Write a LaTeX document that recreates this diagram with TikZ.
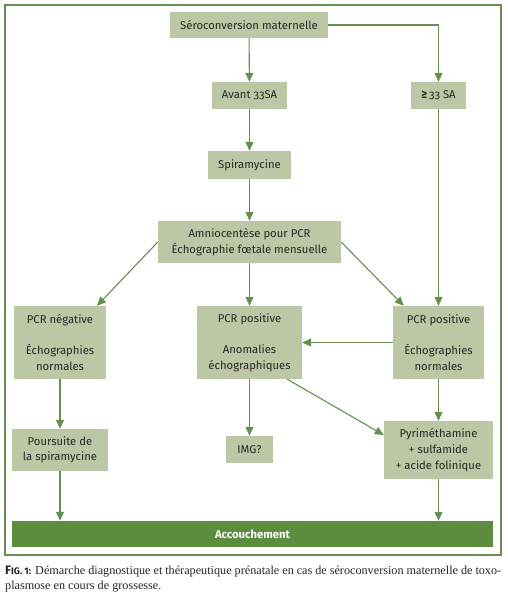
\documentclass[tikz,border=0pt]{standalone}
\usepackage{fontspec}
\setmainfont[Numbers=OldStyle]{Fira Sans}
\newfontfamily\capfont{Liberation Serif}
\usetikzlibrary{arrows.meta,calc}
\definecolor{boxfill}{HTML}{BCC8A5}
\definecolor{linegreen}{HTML}{66904E}
\definecolor{bargreen}{HTML}{5C8C3E}
\definecolor{txt}{HTML}{262626}
\begin{document}
\begin{tikzpicture}[x=1pt,y=-1pt,
  box/.style={fill=boxfill,inner sep=0pt,align=center,text=txt,
    font=\fontsize{11.3}{16}\selectfont},
  arr/.style={draw=linegreen,line width=1.1pt,-{Triangle[length=9pt,width=8pt]}}]
\useasboundingbox (0,0) rectangle (507,598);
\draw[linegreen,line width=2pt] (5,5) rectangle (501,555);
\node[box,minimum width=158pt,minimum height=26pt] (sero) at (249,25) {Séroconversion maternelle};
\node[box,minimum width=75pt,minimum height=27pt] (avant) at (249.5,95.5) {Avant 33SA};
\node[box,minimum width=55pt,minimum height=27pt] (ge) at (438.5,95.5) {\textbf{≥}\,33 SA};
\node[box,minimum width=83pt,minimum height=28pt] (spira) at (249.5,165) {Spiramycine};
\node[box,minimum width=183pt,minimum height=42pt,font=\fontsize{11.3}{16.5}\selectfont] (amnio) at (249.5,242) {Amniocentèse pour PCR\\Échographie fœtale mensuelle};
\node[box,minimum width=92pt,minimum height=73pt] (neg) at (60,342.5) {PCR négative\\[15pt]Échographies\\normales};
\node[box,minimum width=105pt,minimum height=73pt] (pos) at (249.5,342.5) {PCR positive\\[15pt]Anomalies\\échographiques};
\node[box,minimum width=91pt,minimum height=73pt] (posr) at (438.5,342.5) {PCR positive\\[15pt]Échographies\\normales};
\node[box,minimum width=96pt,minimum height=42pt,font=\fontsize{11.3}{15.5}\selectfont] (pours) at (60,450) {Poursuite de\\la spiramycine};
\node[box,minimum width=47pt,minimum height=27pt] (img) at (249.5,449.5) {IMG?};
\node[box,minimum width=109pt,minimum height=58pt] (pyr) at (438.5,450) {Pyriméthamine\\+ sulfamide\\+ acide folinique};
\node[fill=bargreen,inner sep=0pt,minimum width=481pt,minimum height=26pt,text=white,font=\fontsize{11.3}{12}\selectfont\bfseries] (acc) at (252.5,534) {Accouchement};
\draw[arr] (sero) -- (avant);
\draw[arr] (sero.east) -| (ge.north);
\draw[arr] (avant) -- (spira);
\draw[arr] (spira) -- (amnio);
\draw[arr] (amnio.west) -- ($(neg.north)+(37,0)$);
\draw[arr] (amnio) -- (pos);
\draw[arr] (amnio.east) -- ($(posr.north west)+(11,0)$);
\draw[arr] (ge) -- (posr);
\draw[arr] (posr.west) -- (pos.east);
\draw[arr] (neg) -- (pours);
\draw[arr] (pos) -- (img);
\draw[arr] ($(pos.south east)+(-15,0)$) -- ($(pyr.west)+(0,-15)$);
\draw[arr] (posr) -- (pyr);
\draw[arr] (pours.south) -- (pours.south |- acc.north);
\draw[arr] (pyr.south) -- (pyr.south |- acc.north);
\node[anchor=north west,inner sep=0pt,text width=496pt,align=justify,text=txt,
  font=\capfont\fontsize{12.2}{15}\selectfont] (cap) at (5,566)
  {{\fontspec{Fira Sans}\bfseries F\fontsize{9.5}{15}\selectfont IG. 1:} Démarche diagnostique et thérapeutique prénatale en cas de séroconversion maternelle de toxo-\linebreak plasmose en cours de grossesse.};
\end{tikzpicture}
\end{document}
